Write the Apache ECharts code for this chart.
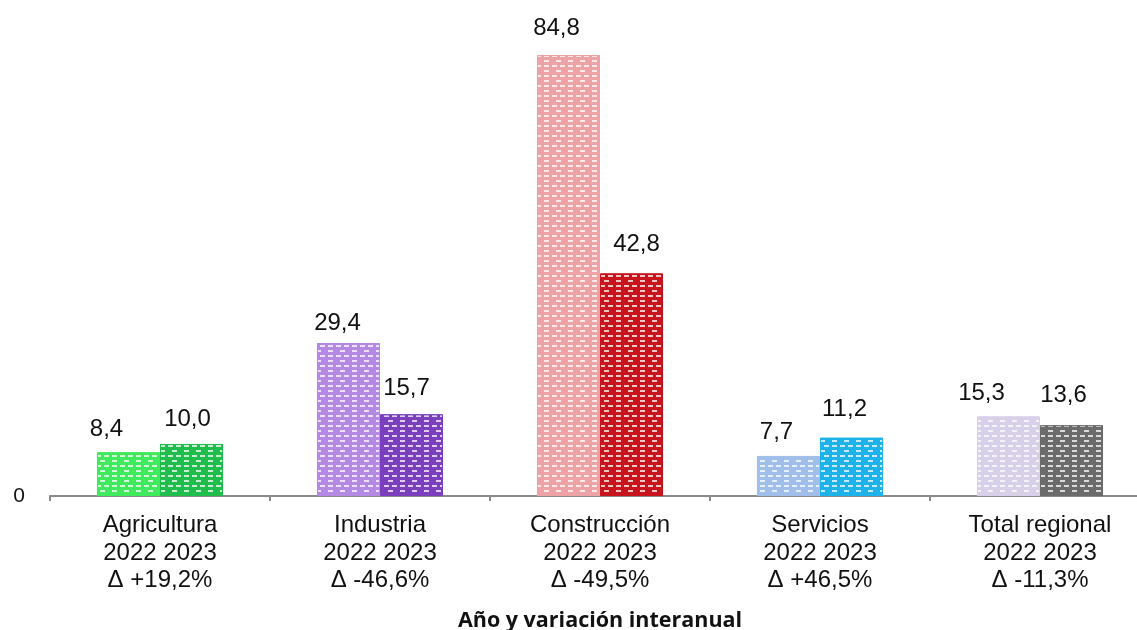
<!DOCTYPE html>
<html>
<head>
<meta charset="utf-8">
<script src="https://cdn.jsdelivr.net/npm/echarts@6/dist/echarts.min.js"></script>
<style>html,body{margin:0;padding:0;background:#fff;overflow:hidden}#c{width:1137px;height:630px}</style>
</head>
<body>
<div id="c"></div>
<script>
// ---- data ----
const categories = ['Agricultura', 'Industria', 'Construcción', 'Servicios', 'Total regional'];
const years = ['2022', '2023'];
const values2022 = [8.4, 29.4, 84.8, 7.7, 15.3];
const values2023 = [10.0, 15.7, 42.8, 11.2, 13.6];
const variation = ['+19,2%', '-46,6%', '-49,5%', '+46,5%', '-11,3%'];
const axisTitle = 'Año y variación interanual';

// ---- styles ----
const colors2022 = ['#3fea5c', '#b389e3', '#eda3a6', '#9fbfea', '#d8cfe9'];
const colors2023 = ['#1fbd4c', '#7b3fbd', '#c8141c', '#1db3ea', '#6b6b6b'];
const labelShift2022 = [[-22, -11], [-11, -8], [-12, -15], [-12, -12], [-27, -11]];
const labelShift2023 = [[-4, -13], [-5, -14], [5, -17], [-7, -16], [-8, -18]];

const FONT = '"Liberation Sans", Arial, sans-serif';

function decal() {
  return {
    symbol: 'rect',
    symbolSize: 1,
    color: 'rgba(255,255,255,0.75)',
    dashArrayX: [[5, 3], [0, 4, 5, 3]],
    dashArrayY: [2, 3],
    rotation: 0
  };
}

function buildData(vals, cols, shifts) {
  return vals.map((v, i) => ({
    value: v,
    itemStyle: { color: cols[i], borderColor: cols[i], borderWidth: 1, decal: decal() },
    label: { offset: shifts[i] }
  }));
}

const fmt = p => p.value.toFixed(1).replace('.', ',');

const chart = echarts.init(document.getElementById('c'), null, { renderer: 'canvas' });
chart.setOption({
  animation: false,
  backgroundColor: '#ffffff',
  grid: { left: 50, top: 28, width: 1100, height: 468, containLabel: false, outerBoundsMode: 'none' },
  xAxis: {
    type: 'category',
    data: categories,
    boundaryGap: true,
    axisLine: { lineStyle: { color: '#8a8a8a', width: 2 } },
    axisTick: { show: true, length: 5, lineStyle: { color: '#8a8a8a', width: 2 } },
    axisLabel: {
      interval: 0,
      margin: 16,
      fontFamily: FONT,
      fontSize: 24,
      lineHeight: 27.5,
      color: '#111',
      formatter: (v, i) => v + '\n' + years.join(' ') + '\nΔ ' + variation[i]
    },
    name: axisTitle,
    nameLocation: 'middle',
    nameGap: 114,
    nameTextStyle: { fontFamily: '"Open Sans", "Noto Sans", sans-serif', fontWeight: 'bold', fontSize: 21.5, color: '#111' }
  },
  yAxis: {
    type: 'value',
    min: 0,
    max: 90,
    interval: 90,
    splitLine: { show: false },
    axisLine: { show: false },
    axisTick: { show: false },
    axisLabel: {
      margin: 25,
      fontFamily: FONT,
      fontSize: 21,
      color: '#111',
      formatter: v => (v === 0 ? '0' : '')
    }
  },
  series: [
    {
      name: years[0],
      type: 'bar',
      barGap: '0%',
      barCategoryGap: '42.7%',
      data: buildData(values2022, colors2022, labelShift2022),
      label: { show: true, position: 'top', distance: 0, fontFamily: FONT, fontSize: 24, color: '#111', formatter: fmt }
    },
    {
      name: years[1],
      type: 'bar',
      barGap: '0%',
      barCategoryGap: '42.7%',
      data: buildData(values2023, colors2023, labelShift2023),
      label: { show: true, position: 'top', distance: 0, fontFamily: FONT, fontSize: 24, color: '#111', formatter: fmt }
    }
  ]
});
</script>
</body>
</html>
